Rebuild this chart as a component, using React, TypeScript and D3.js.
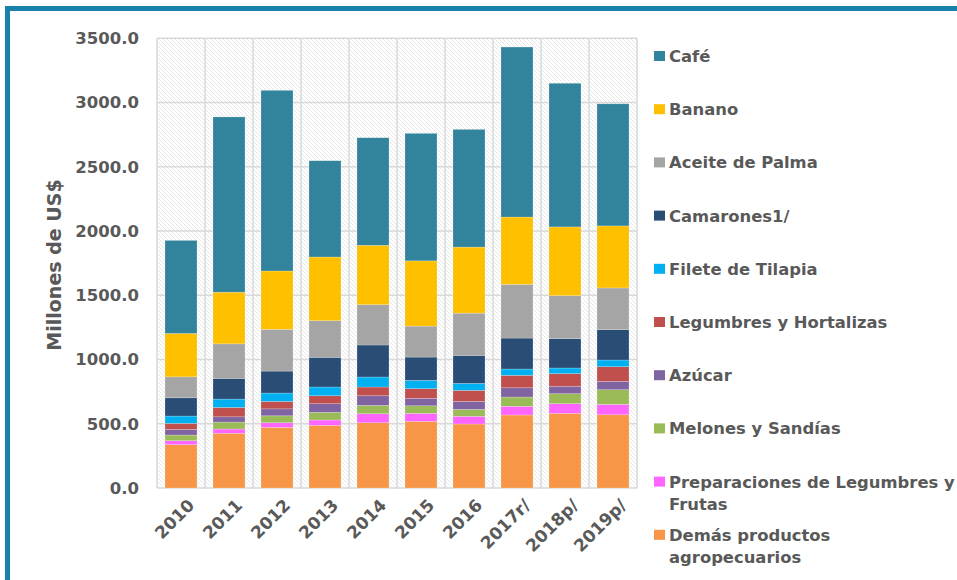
import React, { useEffect, useRef } from 'react';
import * as d3 from 'd3';

// Categorías (años)
const years = ['2010', '2011', '2012', '2013', '2014', '2015', '2016', '2017r/', '2018p/', '2019p/'];

// Series, millones de US$
const cafe = [724, 1364, 1406, 749, 837, 992, 916, 1323, 1118, 950];
const banano = [338, 402, 454, 496, 462, 508, 514, 524, 535, 483];
const aceitePalma = [163, 269, 325, 285, 314, 241, 329, 418, 335, 325];
const camarones = [142, 161, 171, 231, 249, 181, 218, 241, 228, 236];
const tilapia = [57, 65, 65, 68, 78, 65, 54, 49, 44, 52];
const legumbres = [47, 73, 58, 62, 68, 75, 86, 97, 98, 114];
const azucar = [44, 41, 54, 67, 75, 58, 62, 72, 58, 65];
const melones = [44, 54, 54, 60, 65, 59, 54, 72, 78, 114];
const preparaciones = [31, 33, 36, 41, 70, 62, 60, 68, 75, 81];
const demas = [337, 426, 472, 488, 508, 519, 498, 568, 581, 570];

const yTicks = [0, 500, 1000, 1500, 2000, 2500, 3000, 3500];

// orden de apilado: de abajo hacia arriba
const seriesNames = [
  'Demás productos agropecuarios',
  'Preparaciones de Legumbres y Frutas',
  'Melones y Sandías',
  'Azúcar',
  'Legumbres y Hortalizas',
  'Filete de Tilapia',
  'Camarones1/',
  'Aceite de Palma',
  'Banano',
  'Café',
];
const seriesValues = [demas, preparaciones, melones, azucar, legumbres, tilapia, camarones, aceitePalma, banano, cafe];
const seriesColors = ['#F79646', '#FF66FF', '#9BBB59', '#8064A2', '#C0504D', '#00B0F0', '#2A4D75', '#A5A5A5', '#FFC000', '#31849B'];

// legend lines (top to bottom)
const legendLines = [
  ['Café'],
  ['Banano'],
  ['Aceite de Palma'],
  ['Camarones1/'],
  ['Filete de Tilapia'],
  ['Legumbres y Hortalizas'],
  ['Azúcar'],
  ['Melones y Sandías'],
  ['Preparaciones de Legumbres y', 'Frutas'],
  ['Demás productos', 'agropecuarios'],
];

const W = 957;
const H = 580;
const FONT = '"DejaVu Sans", Verdana, sans-serif';
const TEXT = '#595959';
const GRID = '#d9d9d9';

export default function App() {
  const svgRef = useRef<SVGSVGElement>(null);

  useEffect(() => {
    const svg = d3.select(svgRef.current);
    svg.selectAll('*').remove();

    const plot = { left: 157, right: 637, top: 38.3, bottom: 488 };

    const x = d3.scaleBand<string>()
      .domain(years)
      .range([plot.left, plot.right])
      .paddingInner(1 / 3)
      .paddingOuter(1 / 6);

    const y = d3.scaleLinear().domain([0, 3500]).range([plot.bottom, plot.top]);

    const rows = years.map((yr, i) => {
      const r: any = { year: yr };
      seriesNames.forEach((n, k) => { r[n] = seriesValues[k][i]; });
      return r;
    });
    const stacked = d3.stack<any>().keys(seriesNames)(rows);

    // hatch pattern for plot area
    const defs = svg.append('defs');
    const pat = defs.append('pattern')
      .attr('id', 'hatch')
      .attr('patternUnits', 'userSpaceOnUse')
      .attr('width', 4)
      .attr('height', 4);
    pat.append('rect').attr('width', 4).attr('height', 4).attr('fill', '#ffffff');
    pat.append('path')
      .attr('d', 'M-1,-1 L5,5 M3,-1 L5,1 M-1,3 L1,5')
      .attr('stroke', '#e0e0e0')
      .attr('stroke-width', 0.8);

    // outer frame (cut off at right / bottom)
    svg.append('rect')
      .attr('x', 7.5).attr('y', 8.5)
      .attr('width', W + 20).attr('height', H + 20)
      .attr('fill', 'none')
      .attr('stroke', '#1A80AC')
      .attr('stroke-width', 5);

    svg.append('rect')
      .attr('x', plot.left).attr('y', plot.top)
      .attr('width', plot.right - plot.left)
      .attr('height', plot.bottom - plot.top)
      .attr('fill', 'url(#hatch)');

    // gridlines
    const grid = svg.append('g').attr('stroke', GRID).attr('stroke-width', 1.5);
    yTicks.forEach(t => {
      grid.append('line')
        .attr('x1', plot.left).attr('x2', plot.right)
        .attr('y1', y(t)).attr('y2', y(t));
    });
    d3.range(years.length + 1).forEach(i => {
      const gx = plot.left + i * x.step();
      grid.append('line')
        .attr('x1', gx).attr('x2', gx)
        .attr('y1', plot.top).attr('y2', plot.bottom);
    });

    // bars
    svg.append('g')
      .selectAll('g')
      .data(stacked)
      .join('g')
      .attr('fill', (_d, i) => seriesColors[i])
      .selectAll('rect')
      .data(d => d)
      .join('rect')
      .attr('x', d => x(d.data.year)!)
      .attr('width', x.bandwidth())
      .attr('y', d => y(d[1]))
      .attr('height', d => y(d[0]) - y(d[1]))
      .attr('stroke', 'rgba(255,255,255,0.35)')
      .attr('stroke-width', 0.6);

    // y tick labels
    svg.append('g')
      .selectAll('text')
      .data(yTicks)
      .join('text')
      .attr('x', 139)
      .attr('y', d => y(d))
      .attr('dy', '0.36em')
      .attr('text-anchor', 'end')
      .attr('font-family', FONT)
      .attr('font-weight', 'bold')
      .attr('font-size', 16.5)
      .attr('fill', TEXT)
      .text(d => d.toFixed(1));

    // y axis title
    svg.append('text')
      .attr('transform', `translate(61,265) rotate(-90)`)
      .attr('text-anchor', 'middle')
      .attr('font-family', FONT)
      .attr('font-weight', 'bold')
      .attr('font-size', 19)
      .attr('fill', TEXT)
      .text('Millones de US$');

    // x labels
    svg.append('g')
      .selectAll('text')
      .data(years)
      .join('text')
      .attr('transform', d => `translate(${x(d)! + x.bandwidth() / 2 + 6},${plot.bottom + 10}) rotate(-45)`)
      .attr('text-anchor', 'end')
      .attr('dy', '0.7em')
      .attr('font-family', FONT)
      .attr('font-weight', 'bold')
      .attr('font-size', 17)
      .attr('fill', TEXT)
      .text(d => d);

    // legend
    const lg = svg.append('g');
    legendLines.forEach((lines, i) => {
      const cy = 56 + i * 53.2;
      const color = seriesColors[seriesColors.length - 1 - i];
      lg.append('rect')
        .attr('x', 654).attr('y', cy - 5)
        .attr('width', 11).attr('height', 10)
        .attr('fill', color);
      lines.forEach((ln, j) => {
        lg.append('text')
          .attr('x', 669)
          .attr('y', cy + j * 22.3)
          .attr('dy', '0.36em')
          .attr('font-family', FONT)
          .attr('font-weight', 'bold')
          .attr('font-size', 16.4)
          .attr('fill', TEXT)
          .text(ln);
      });
    });
  }, []);

  return (
    <svg
      ref={svgRef}
      width={W}
      height={H}
      style={{ position: 'absolute', left: 0, top: 0, background: '#ffffff' }}
    />
  );
}
